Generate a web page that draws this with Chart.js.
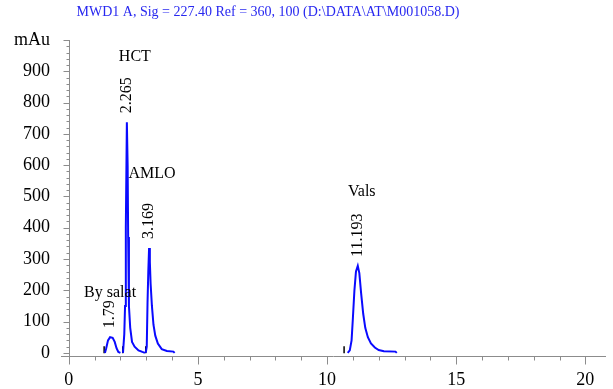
<!DOCTYPE html>
<html>
<head>
<meta charset="utf-8">
<script src="https://cdn.jsdelivr.net/npm/chart.js@4.4.0/dist/chart.umd.min.js"></script>
<style>
  html, body { margin: 0; padding: 0; background: #fff; }
</style>
</head>
<body>
<canvas id="chromatogram" width="613" height="389"></canvas>
<script>
// ============================================================================
// HPLC CHROMATOGRAM (MWD1 A, Sig = 227.40)
// ============================================================================

const chartTitle = 'MWD1 A, Sig = 227.40 Ref = 360, 100 (D:\\DATA\\AT\\M001058.D)';

// retention time (min) / absorbance (mAu), one pair of arrays per peak
const bySalatTime = [1.40, 1.45, 1.52, 1.60, 1.70, 1.78, 1.85, 1.92, 2.00];
const bySalatAbs  = [0, 15, 40, 50, 48, 35, 15, 3, 0];

const hctTime = [2.10, 2.15, 2.18, 2.21, 2.25, 2.28, 2.30, 2.33, 2.38, 2.45, 2.55, 2.70, 2.85, 2.95];
const hctAbs  = [0, 60, 150, 400, 737, 600, 370, 150, 80, 35, 20, 8, 3, 0];

const amloTime = [2.98, 3.02, 3.05, 3.08, 3.11, 3.14, 3.17, 3.22, 3.28, 3.35, 3.45, 3.60, 3.80, 4.05, 4.10];
const amloAbs  = [0, 20, 160, 260, 335, 290, 220, 150, 90, 55, 30, 12, 6, 4, 0];

const valsTime = [10.80, 10.88, 10.95, 11.00, 11.06, 11.12, 11.19, 11.25, 11.32, 11.40, 11.48, 11.58, 11.70, 11.85, 12.00, 12.20, 12.65, 12.70];
const valsAbs  = [0, 8, 40, 110, 200, 260, 278, 255, 190, 125, 80, 50, 30, 17, 9, 5, 4, 0];

// integration baseline markers
const markerTimes = [1.37, 2.09, 2.98, 10.66];

// peak annotations
const peakNames = ['By salat', 'HCT', 'AMLO', 'Vals'];
const peakRTLabels = ['1.79', '2.265', '3.169', '11.193'];

// axis ticks
const xTickValues = [0, 5, 10, 15, 20];
const yTickValues = [0, 100, 200, 300, 400, 500, 600, 700, 800, 900, 1000];

// name label offsets from top of rotated RT label (px)
const nameOffsets = [[0, -7], [8, -20], [3, -29], [4, -22]];

const BLUE = '#0a0aff';
const AXIS_GRAY = '#8c8c8c';
const SERIF = '"Liberation Serif", "DejaVu Serif", serif';

const toPoints = (t, v) => t.map((x, i) => ({ x: x, y: v[i] }));
const peaks = [
    toPoints(bySalatTime, bySalatAbs),
    toPoints(hctTime, hctAbs),
    toPoints(amloTime, amloAbs),
    toPoints(valsTime, valsAbs)
];

const peakDatasets = peaks.map((pts, i) => ({
    label: peakNames[i],
    data: pts,
    showLine: true,
    borderColor: BLUE,
    borderWidth: 2,
    pointRadius: 0,
    tension: 0
}));

const markerDataset = {
    label: 'baseline',
    data: markerTimes.map(t => ({ x: t, y: 10 })),
    showLine: false,
    pointStyle: 'line',
    rotation: 90,
    pointRadius: 3.5,
    borderColor: '#000',
    borderWidth: 1.5
};

// axes with minor ticks, title and peak labels
const chromPlugin = {
    id: 'chromPlugin',
    beforeDatasetsDraw(chart) {
        const { ctx, chartArea, scales } = chart;
        const xs = scales.x, ys = scales.y;
        const x0 = Math.round(xs.getPixelForValue(0)) + 0.5;
        const yb = Math.round(chartArea.bottom) + 0.5;
        ctx.save();
        ctx.strokeStyle = AXIS_GRAY;
        ctx.lineWidth = 1;
        ctx.beginPath();
        // x axis
        ctx.moveTo(chartArea.left, yb);
        ctx.lineTo(chartArea.right, yb);
        for (let t = 0; t <= 20; t++) {
            const px = Math.round(xs.getPixelForValue(t)) + 0.5;
            ctx.moveTo(px, yb);
            ctx.lineTo(px, yb + (t % 5 === 0 ? 8 : 4));
        }
        // y axis
        ctx.moveTo(x0, yb);
        ctx.lineTo(x0, Math.round(ys.getPixelForValue(1000)));
        for (let v = 0; v <= 1000; v += 20) {
            const py = Math.round(ys.getPixelForValue(v)) + 0.5;
            ctx.moveTo(x0, py);
            ctx.lineTo(x0 - (v % 100 === 0 ? 6 : 3), py);
        }
        ctx.stroke();
        ctx.restore();
    },
    afterDraw(chart) {
        const { ctx, scales } = chart;
        ctx.save();
        // title
        ctx.fillStyle = '#2828f0';
        ctx.font = '14px ' + SERIF;
        ctx.textAlign = 'center';
        ctx.textBaseline = 'middle';
        ctx.fillText(chartTitle, 268, 12);

        // peak annotations
        ctx.fillStyle = '#000';
        ctx.font = '16px ' + SERIF;
        peaks.forEach((pts, i) => {
            const apex = pts.reduce((a, b) => (b.y > a.y ? b : a));
            const px = scales.x.getPixelForValue(apex.x);
            const py = scales.y.getPixelForValue(apex.y);
            const bottom = py - 9;
            const w = ctx.measureText(peakRTLabels[i]).width;
            ctx.save();
            ctx.translate(px, bottom);
            ctx.rotate(-Math.PI / 2);
            ctx.textAlign = 'left';
            ctx.textBaseline = 'middle';
            ctx.fillText(peakRTLabels[i], 0, 0);
            ctx.restore();
            const top = bottom - w;
            ctx.textAlign = 'center';
            ctx.textBaseline = 'middle';
            ctx.fillText(peakNames[i], px + nameOffsets[i][0], top + nameOffsets[i][1]);
        });
        ctx.restore();
    }
};

function renderChromatogram(canvasId) {
    const ctx = document.getElementById(canvasId).getContext('2d');
    return new Chart(ctx, {
        type: 'scatter',
        data: { datasets: [...peakDatasets, markerDataset] },
        options: {
            responsive: false,
            animation: false,
            layout: { padding: { top: 40, right: 7, left: 0, bottom: 0 } },
            plugins: {
                legend: { display: false },
                tooltip: { enabled: false },
                title: { display: false }
            },
            scales: {
                x: {
                    type: 'linear',
                    min: -0.3,
                    max: 20.8,
                    grid: { display: false, drawTicks: false },
                    border: { display: false },
                    afterBuildTicks: s => { s.ticks = xTickValues.map(v => ({ value: v })); },
                    afterFit: s => { s.height = 33; },
                    ticks: {
                        color: '#000',
                        padding: 13,
                        maxRotation: 0,
                        font: { family: SERIF, size: 18 }
                    }
                },
                y: {
                    type: 'linear',
                    min: -10,
                    max: 1000,
                    grid: { display: false, drawTicks: false },
                    border: { display: false },
                    afterBuildTicks: s => { s.ticks = yTickValues.map(v => ({ value: v })); },
                    afterFit: s => { s.width = 61; },
                    ticks: {
                        color: '#000',
                        padding: 11,
                        font: { family: SERIF, size: 18 },
                        callback: v => (v === 1000 ? 'mAu' : v)
                    }
                }
            }
        },
        plugins: [chromPlugin]
    });
}

renderChromatogram('chromatogram');
</script>
</body>
</html>
